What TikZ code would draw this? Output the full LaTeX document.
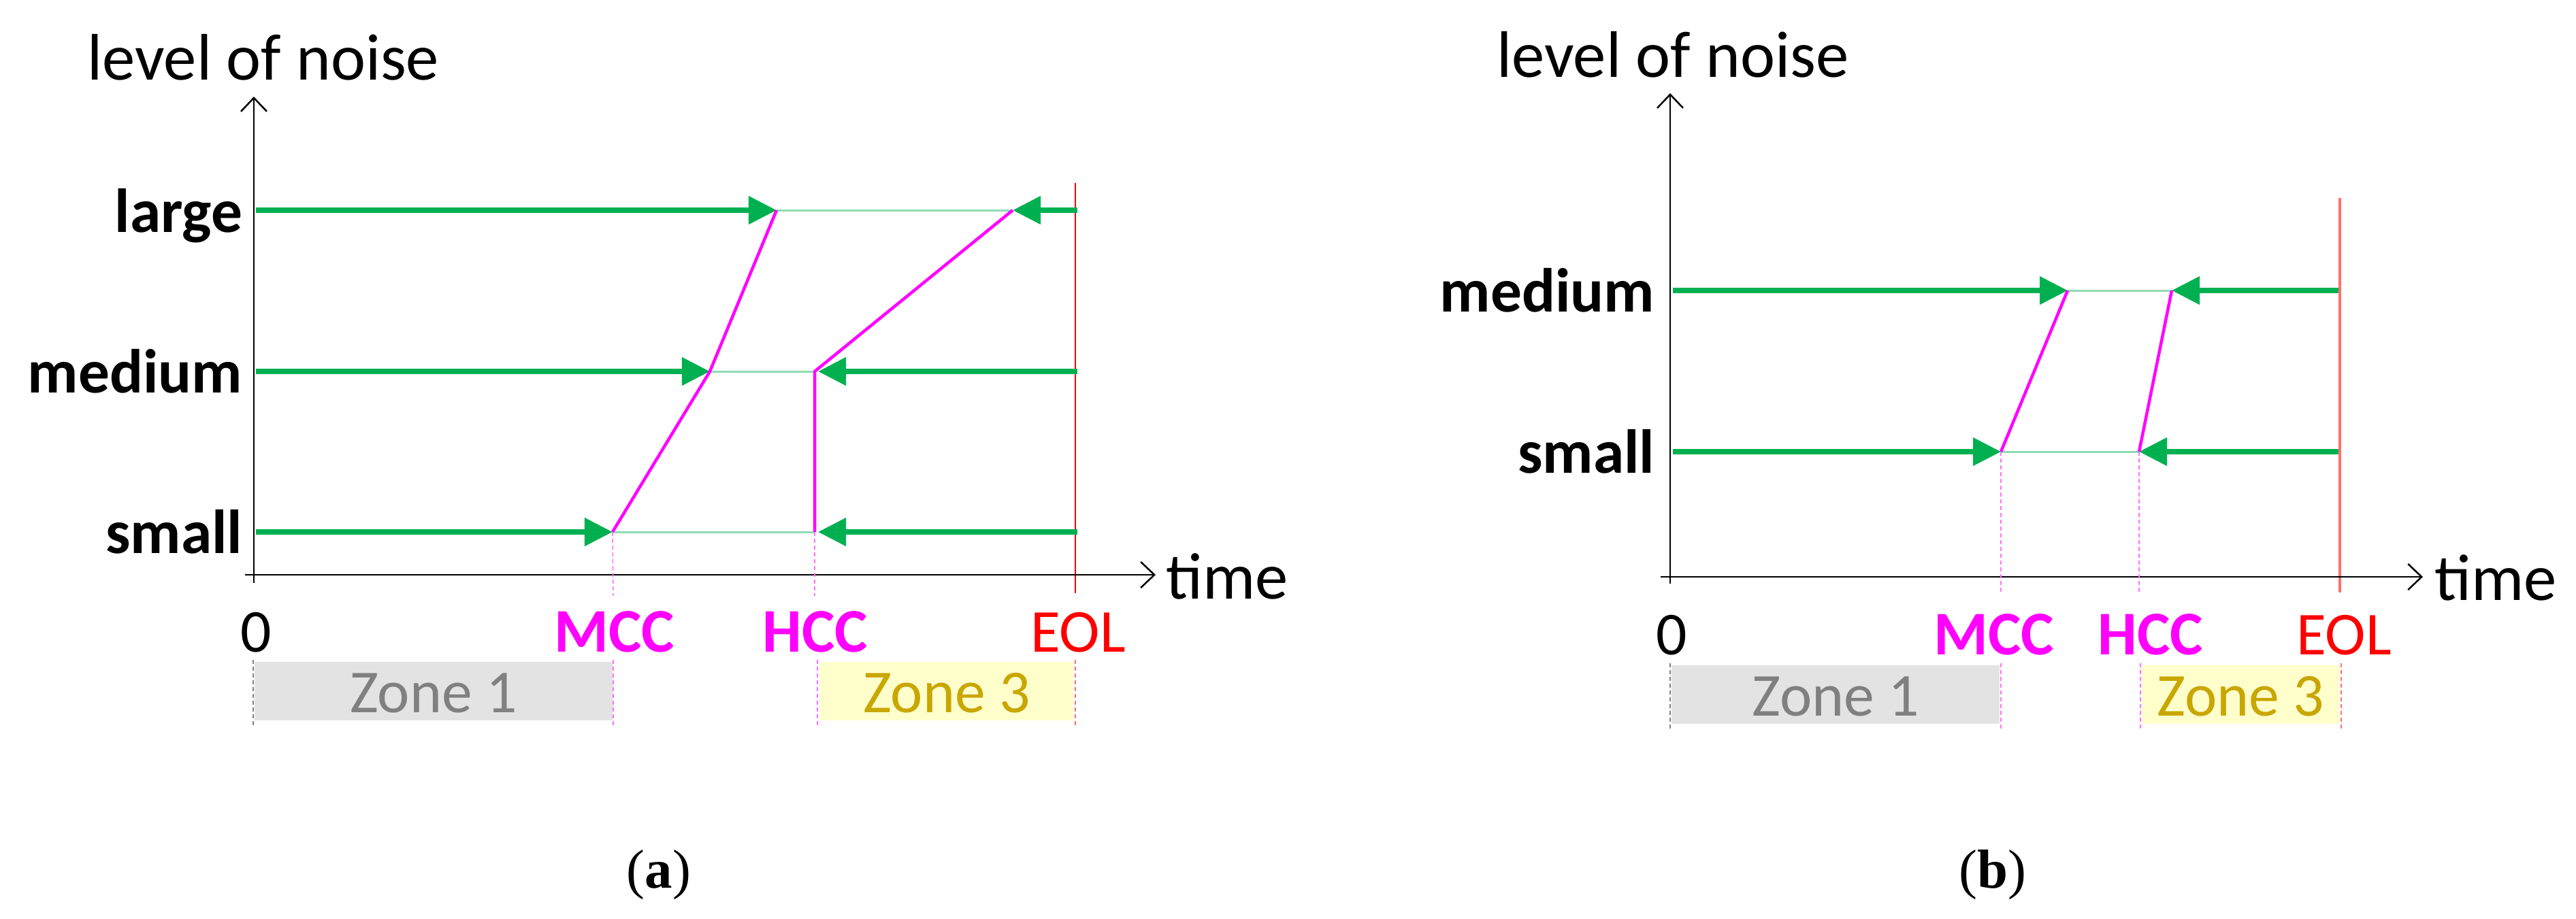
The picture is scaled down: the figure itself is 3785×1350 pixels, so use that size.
\documentclass[tikz,border=0pt]{standalone}
\usepackage{fontspec}
\setmainfont{Carlito}
\newfontfamily\capfont{Liberation Serif}
\usetikzlibrary{arrows.meta}
\definecolor{grn}{HTML}{00B050}
\definecolor{lgrn}{HTML}{8FDBB3}
\definecolor{mag}{HTML}{FF00FF}
\definecolor{zgray}{HTML}{E3E3E3}
\definecolor{zgtext}{HTML}{808080}
\definecolor{zyel}{HTML}{FFFFCC}
\definecolor{zytext}{HTML}{C9A600}
\definecolor{lred}{HTML}{FF7070}
\definecolor{lmag}{HTML}{FF70FF}
\begin{document}
\begin{tikzpicture}[x=0.01cm,y=-0.01cm,
  axisline/.style={line width=0.025cm,-{Straight Barb[length=0.2cm,width=0.38cm]}},
  garrow/.style={grn,line width=0.075cm,-{Triangle[length=0.41cm,width=0.40cm]}},
  gthin/.style={lgrn,line width=0.03cm},
  magline/.style={mag,line width=0.045cm,line join=round},
  vdash/.style={line width=0.015cm,dash pattern=on 0.06cm off 0.04cm},
  bigtxt/.style={font=\fontsize{27.5}{30}\selectfont,inner sep=0},
  lvl/.style={font=\fontsize{26}{28}\selectfont\bfseries,anchor=base east,inner sep=0},
  tick/.style={font=\fontsize{25.5}{28}\selectfont,anchor=base,inner sep=0},
  btick/.style={font=\fontsize{26}{28}\selectfont\bfseries,anchor=base,inner sep=0,text=mag},
  ztxt/.style={font=\fontsize{25.5}{28}\selectfont,anchor=base,inner sep=0},
  captxt/.style={font=\capfont\fontsize{23}{26}\selectfont,anchor=base,inner sep=0}
]
\useasboundingbox[fill=white] (0,0) rectangle (3785,1350);

% ================= panel (a) =================
\coordinate (aO) at (373,845);
\coordinate (aYb) at (373,857);
\coordinate (aYt) at (373,142);
\coordinate (aXb) at (360,845);
\coordinate (aXt) at (1698,845);
\node[bigtxt,anchor=base east] (alevel) at (646,117) {level of noise};
\node[bigtxt,anchor=base west] (atime) at (1713,880) {time};

% zones
\fill[zgray] (374,973) rectangle (900,1059);
\fill[zyel] (1205,973) rectangle (1577,1059);
\node[ztxt,text=zgtext] (az1) at (637,1047) {Zone 1};
\node[ztxt,text=zytext] (az3) at (1391,1047) {Zone 3};
\draw[vdash,zgtext] (372,970) -- (372,1067);
\draw[vdash,lmag] (901,970) -- (901,1067);
\draw[vdash,lmag] (1201,970) -- (1201,1067);
\draw[vdash,lred] (1580,970) -- (1580,1067);

% EOL line
\coordinate (aEt) at (1580,269);
\coordinate (aEb) at (1580,872);
\draw[red,line width=0.02cm] (aEt) -- (aEb);

% axes
\draw[axisline] (aYb) -- (aYt);
\draw[axisline] (aXb) -- (aXt);

% level labels
\node[lvl] (alarge) at (357,341) {large};
\node[lvl] (amedium) at (357,577) {medium};
\node[lvl] (asmall) at (357,813) {small};

% points
\coordinate (aL0) at (376,309);  \coordinate (aL1) at (1141,309);
\coordinate (aL2) at (1488,309); \coordinate (aL3) at (1583,309);
\coordinate (aM0) at (376,546);  \coordinate (aM1) at (1043,546);
\coordinate (aM2) at (1197,546); \coordinate (aM2t) at (1202,546);
\coordinate (aM3) at (1583,546);
\coordinate (aS0) at (376,782);  \coordinate (aS1) at (900,782);
\coordinate (aS2) at (1197,782); \coordinate (aS2t) at (1202,782);
\coordinate (aS3) at (1583,782);
\coordinate (aMCCb) at (901,876);
\coordinate (aHCCb) at (1197,876);

% dashed guides
\draw[vdash,lmag] (aS1) -- (aMCCb);
\draw[vdash,lmag] (aS2) -- (aHCCb);

% thin connectors
\draw[gthin] (aL1) -- (aL2);
\draw[gthin] (aM1) -- (aM2);
\draw[gthin] (aS1) -- (aS2);

% arrows
\draw[garrow] (aL0) -- (aL1);
\draw[garrow] (aL3) -- (aL2);
\draw[garrow] (aM0) -- (aM1);
\draw[garrow] (aM3) -- (aM2t);
\draw[garrow] (aS0) -- (aS1);
\draw[garrow] (aS3) -- (aS2t);

% magenta curves
\draw[magline] (aS1) -- (aM1) -- (aL1);
\draw[magline] (aS2) -- (aM2) -- (aL2);

% tick labels
\node[tick] (a0) at (376,958) {0};
\node[btick] (aMCC) at (903,958) {MCC};
\node[btick] (aHCC) at (1198,958) {HCC};
\node[tick,text=red] (aEOL) at (1584,958) {EOL};

\node[captxt] (acap) at (968,1305) {(\textbf{a})};

% ================= panel (b) =================
\coordinate (bYb) at (2454,858);
\coordinate (bYt) at (2454,137);
\coordinate (bXb) at (2440,848);
\coordinate (bXt) at (3560,848);
\node[bigtxt,anchor=base east] (blevel) at (2717,113) {level of noise};
\node[bigtxt,anchor=base west] (btime) at (3577,882) {time};

% zones
\fill[zgray] (2456,978) rectangle (2938,1064);
\fill[zyel] (3147,978) rectangle (3437,1064);
\node[ztxt,text=zgtext] (bz1) at (2697,1052) {Zone 1};
\node[ztxt,text=zytext] (bz3) at (3292,1052) {Zone 3};
\draw[vdash,zgtext] (2454,975) -- (2454,1073);
\draw[vdash,lmag] (2940,975) -- (2940,1073);
\draw[vdash,lmag] (3145,975) -- (3145,1073);
\draw[vdash,lred] (3440,975) -- (3440,1073);

% EOL
\coordinate (bEt) at (3438,291);
\coordinate (bEb) at (3438,871);
\draw[lred,line width=0.04cm] (bEt) -- (bEb);

% axes
\draw[axisline] (bYb) -- (bYt);
\draw[axisline] (bXb) -- (bXt);

% labels
\node[lvl] (bmedium) at (2432,458) {medium};
\node[lvl] (bsmall) at (2432,695) {small};

% points
\coordinate (bM0) at (2458,427); \coordinate (bM1) at (3038,427);
\coordinate (bM2) at (3191,427); \coordinate (bM3) at (3436,427);
\coordinate (bS0) at (2458,664); \coordinate (bS1) at (2940,664);
\coordinate (bS2) at (3143,664); \coordinate (bS3) at (3436,664);
\coordinate (bMCCb) at (2940,872);
\coordinate (bHCCb) at (3143,872);

\draw[vdash,lmag] (bS1) -- (bMCCb);
\draw[vdash,lmag] (bS2) -- (bHCCb);

\draw[gthin] (bM1) -- (bM2);
\draw[gthin] (bS1) -- (bS2);

\draw[garrow] (bM0) -- (bM1);
\draw[garrow] (bM3) -- (bM2);
\draw[garrow] (bS0) -- (bS1);
\draw[garrow] (bS3) -- (bS2);

\draw[magline] (bS1) -- (bM1);
\draw[magline] (bS2) -- (bM2);

\node[tick] (b0) at (2456,962) {0};
\node[btick] (bMCC) at (2930,962) {MCC};
\node[btick] (bHCC) at (3160,962) {HCC};
\node[tick,text=red] (bEOL) at (3444,962) {EOL};

\node[captxt] (bcap) at (2928,1305) {(\textbf{b})};
\end{tikzpicture}
\end{document}
